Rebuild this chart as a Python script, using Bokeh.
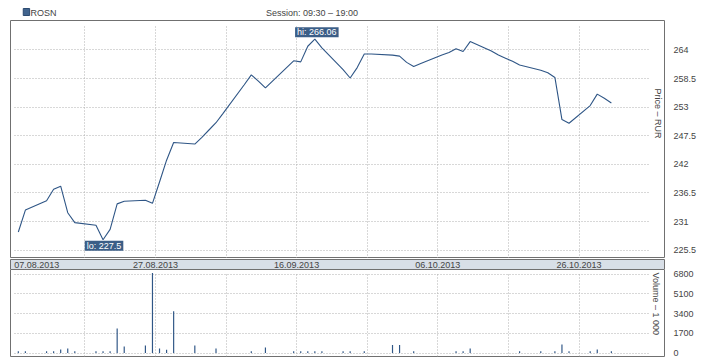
import math
import pandas as pd
from bokeh.plotting import figure
from bokeh.layouts import column
from bokeh.models import (ColumnDataSource, Range1d, FixedTicker, Grid, Label,
                          CustomJSTickFormatter)
from bokeh.embed import file_html
from bokeh.resources import INLINE
from bokeh.core.properties import value

# ---------------- data ----------------
TICKER = "ROSN"
SESSION = "Session: 09:30 \u2013 19:00"
PRICE_TITLE = "Price \u2013 RUR"
VOLUME_TITLE = "Volume \u2013 1 000"

dates = [
    "2013-08-08", "2013-08-09", "2013-08-12", "2013-08-13", "2013-08-14", "2013-08-15", "2013-08-16",
    "2013-08-19", "2013-08-20", "2013-08-21", "2013-08-22", "2013-08-23",
    "2013-08-26", "2013-08-27", "2013-08-28", "2013-08-29", "2013-08-30",
    "2013-09-02", "2013-09-03", "2013-09-04", "2013-09-05", "2013-09-06",
    "2013-09-09", "2013-09-10", "2013-09-11", "2013-09-12", "2013-09-13",
    "2013-09-16", "2013-09-17", "2013-09-18", "2013-09-19", "2013-09-20",
    "2013-09-23", "2013-09-24", "2013-09-25", "2013-09-26", "2013-09-27",
    "2013-09-30", "2013-10-01", "2013-10-02", "2013-10-03", "2013-10-04",
    "2013-10-07", "2013-10-08", "2013-10-09", "2013-10-10", "2013-10-11",
    "2013-10-14", "2013-10-15", "2013-10-16", "2013-10-17", "2013-10-18",
    "2013-10-21", "2013-10-22", "2013-10-23", "2013-10-24", "2013-10-25",
    "2013-10-28", "2013-10-29", "2013-10-30", "2013-10-31",
]
close = [
    229.0, 233.2, 235.0, 237.2, 237.8, 232.7, 230.8,
    230.3, 227.5, 229.5, 234.4, 234.9,
    235.1, 234.5, 238.6, 242.8, 246.2,
    245.9, 247.2, 248.6, 250.0, 251.8,
    257.3, 259.2, 258.0, 256.7, 258.0,
    261.9, 261.7, 264.7, 266.06, 264.4,
    260.2, 258.6, 260.6, 263.2, 263.2,
    263.0, 262.8, 261.6, 260.8, 261.4,
    263.0, 263.5, 264.2, 263.7, 265.6,
    263.8, 263.0, 262.4, 261.8, 261.1,
    260.1, 259.6, 258.7, 250.6, 249.9,
    253.3, 255.5, 254.7, 253.8,
]
volume = [
    150, 150, 150, 150, 310, 400, 150,
    150, 150, 150, 2130, 570,
    660, 6900, 400, 290, 3600,
    660, 0, 0, 400, 0,
    0, 150, 0, 490, 0,
    150, 150, 150, 150, 150,
    150, 150, 0, 150, 0,
    700, 700, 0, 150, 0,
    0, 0, 150, 150, 400,
    0, 0, 0, 0, 150,
    150, 0, 150, 750, 150,
    150, 310, 0, 150,
]

price_ticks = [225.5, 231, 236.5, 242, 247.5, 253, 258.5, 264]
volume_ticks = [0, 1700, 3400, 5100, 6800]
grid_dates = ["2013-08-17", "2013-08-27", "2013-09-06", "2013-09-16", "2013-09-26",
              "2013-10-06", "2013-10-16", "2013-10-26"]
label_dates = ["2013-08-07", "2013-08-27", "2013-09-16", "2013-10-06", "2013-10-26"]
date_labels = ["07.08.2013", "27.08.2013", "16.09.2013", "06.10.2013", "26.10.2013"]

# ---------------- styles / geometry ----------------
FONT = "Liberation Sans"
LINE = "#2f5686"
BOX = "#3b5e87"
GRID_C = "#b0b0b0"
FRAME = "#707070"
TEXT = "#444444"
STRIP_BG = "#d8dfe7"
W = 718
LEFT, RIGHT = 10, 54
TICK_SHIFT = pd.Timedelta(hours=10)


def ms(ts):
    return pd.Timestamp(ts).value / 1e6


X_START = pd.Timestamp("2013-08-06 21:25")
X_END = pd.Timestamp("2013-11-07 12:35")
GRID_X0 = ms(pd.Timestamp(label_dates[0]) + TICK_SHIFT)
GRID_X1 = GRID_X0 + 90 * 86400000.0
P_START, P_END = 223.9, 269.65
V_START, V_END = -295, 7208

x_range = Range1d(X_START, X_END)
dt = pd.to_datetime(dates)
src = ColumnDataSource(dict(date=dt, close=close, volume=volume))
grid_ms = [ms(pd.Timestamp(d) + TICK_SHIFT) for d in grid_dates]


def style_right_axis(fig, ticks):
    ax = fig.yaxis[0]
    ax.ticker = FixedTicker(ticks=ticks)
    ax.formatter = CustomJSTickFormatter(code="return String(tick)")
    ax.axis_line_color = None
    ax.major_tick_line_color = None
    ax.minor_tick_line_color = None
    ax.major_tick_out = 0
    ax.major_tick_in = 0
    ax.major_label_standoff = 9
    ax.major_label_text_font = FONT
    ax.major_label_text_font_size = "9px"
    ax.major_label_text_color = TEXT
    g = fig.ygrid[0]
    g.ticker = FixedTicker(ticks=ticks)
    g.grid_line_color = GRID_C
    g.grid_line_dash = "1 2"
    g.cross_bounds = (GRID_X0, GRID_X1)


# ---------------- header ----------------
header = figure(width=W, height=20, x_range=Range1d(0, W), y_range=Range1d(20, 0),
                x_axis_type=None, y_axis_type=None, toolbar_location=None,
                output_backend="svg", min_border=0, outline_line_color=None)
header.grid.visible = False
header.rect(x=17.5, y=11.5, width=7, height=7, fill_color="#41648e", line_color="#2c4a70")
header.add_layout(Label(x=22, y=12, text=TICKER, text_baseline="middle", text_align="left",
                        text_font=FONT, text_font_size="9px", text_color=TEXT))
header.add_layout(Label(x=331, y=12, text=SESSION, text_baseline="middle", text_align="center",
                        text_font=FONT, text_font_size="9px", text_color=TEXT))

# ---------------- price ----------------
p = figure(width=W, height=238, x_range=x_range, y_range=Range1d(P_START, P_END),
           x_axis_type=None, y_axis_location="right", toolbar_location=None,
           output_backend="svg", min_border_left=LEFT, min_border_right=RIGHT,
           min_border_top=0, min_border_bottom=0, outline_line_color=FRAME,
           outline_line_width=1)
style_right_axis(p, price_ticks)
p.add_layout(Grid(dimension=0, ticker=FixedTicker(ticks=grid_ms), grid_line_color=GRID_C,
                  grid_line_dash="1 2", cross_bounds=(P_START, 268.9)))
p.line("date", "close", source=src, line_color=LINE, line_width=1.1)

i_hi = max(range(len(close)), key=lambda i: close[i])
i_lo = min(range(len(close)), key=lambda i: close[i])
lab_kw = dict(text_font=FONT, text_font_size="9px", text_color="white",
              background_fill_color=BOX, background_fill_alpha=1.0, text_align="center",
              padding=dict(left=2, right=2, top=0, bottom=0))
p.add_layout(Label(x=ms(dt[i_hi]), y=close[i_hi], text=f"hi: {close[i_hi]:g}",
                   text_baseline="bottom", y_offset=2, x_offset=2, **lab_kw))
p.add_layout(Label(x=ms(dt[i_lo]), y=close[i_lo], text=f"lo: {close[i_lo]:g}",
                   text_baseline="top", y_offset=-1, x_offset=1, **lab_kw))
p.add_layout(Label(x=ms(X_END), y=P_END, x_offset=-7, y_offset=-68, text=PRICE_TITLE,
                   angle=-math.pi / 2, text_align="left", text_baseline="middle",
                   text_font=FONT, text_font_size="9px", text_color=TEXT))

# ---------------- date strip ----------------
strip = figure(width=W, height=11, x_range=x_range, y_range=Range1d(0, 1),
               x_axis_type=None, y_axis_type=None, toolbar_location=None,
               output_backend="svg", min_border_left=LEFT, min_border_right=RIGHT,
               min_border_top=0, min_border_bottom=0, outline_line_color=FRAME,
               background_fill_color=STRIP_BG)
strip.grid.visible = False
strip_src = ColumnDataSource(dict(
    x=[pd.Timestamp(d) + TICK_SHIFT for d in label_dates],
    label=date_labels,
    align=["left" if i == 0 else "center" for i in range(len(date_labels))],
))
strip.text(x="x", y=0.5, text="label", text_align="align", text_baseline="middle",
           text_font=value(FONT), text_font_size="9px", text_color=TEXT, source=strip_src)

# ---------------- volume ----------------
v = figure(width=W, height=91, x_range=x_range, y_range=Range1d(V_START, V_END),
           x_axis_type=None, y_axis_location="right", toolbar_location=None,
           output_backend="svg", min_border_left=LEFT, min_border_right=RIGHT,
           min_border_top=0, min_border_bottom=4, outline_line_color=FRAME)
style_right_axis(v, volume_ticks)
v.add_layout(Grid(dimension=0, ticker=FixedTicker(ticks=grid_ms), grid_line_color=GRID_C,
                  grid_line_dash="1 2", cross_bounds=(V_START, 6900)))
v.vbar(x="date", top="volume", bottom=0, width=4 * 3600 * 1000, source=src,
       fill_color=LINE, line_color=None)
v.add_layout(Label(x=ms(X_END), y=V_END, x_offset=-9, y_offset=-3, text=VOLUME_TITLE,
                   angle=-math.pi / 2, text_align="left", text_baseline="middle",
                   text_font=FONT, text_font_size="9px", text_color=TEXT))

layout = column(header, p, strip, v, spacing=0)
open("out.html", "w").write(file_html(layout, INLINE))
